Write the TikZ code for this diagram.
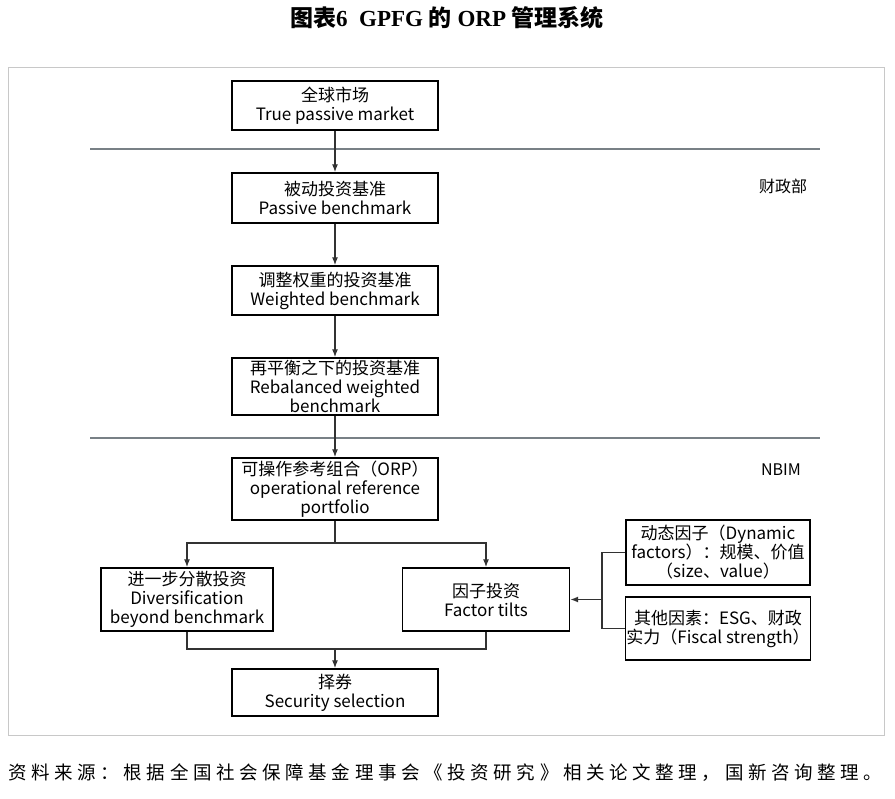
\documentclass[tikz,border=0pt]{standalone}
\usepackage{fontspec}
\setmainfont{Liberation Serif}
\newfontfamily\cjk{Noto Sans CJK SC}
\newfontfamily\cjkfoot[LetterSpace=25]{Noto Sans CJK SC}
\usetikzlibrary{arrows.meta}
\definecolor{framegray}{RGB}{200,200,200}
\definecolor{sepgray}{RGB}{120,128,134}
\definecolor{linkgray}{RGB}{50,50,50}
\tikzset{
  box/.style={draw=black, line width=1.4pt, rectangle, align=center, inner sep=1pt,
    font=\cjk\fontsize{17}{19}\selectfont},
  link/.style={draw=linkgray, line width=1.3pt},
  arr/.style={link, -{Latex[length=8pt,width=6pt]}},
  sep/.style={draw=sepgray, line width=1.8pt},
  side/.style={font=\cjk\fontsize{16}{18}\selectfont, inner sep=0pt}
}
\begin{document}
\begin{tikzpicture}[x=1pt,y=-1pt]
\useasboundingbox (0,0) rectangle (895,799);
% title
\node[inner sep=0pt] (title) at (447,18) {\fontsize{23}{25}\selectfont\bfseries{\cjk 图表}6\hspace{0.5em}GPFG {\cjk 的} ORP {\cjk 管理系统}};
% frame
\draw[draw=framegray, line width=1pt] (8,68) rectangle (884,735);
% separators
\draw[sep] (90,149) -- (820,149);
\draw[sep] (90,438) -- (820,438);
% boxes
\node[box, minimum width=206pt, minimum height=49pt] (b1) at (335,105.5) {全球市场\\True passive market};
\node[box, minimum width=206pt, minimum height=50pt] (b2) at (335,198) {被动投资基准\\Passive benchmark};
\node[box, minimum width=206pt, minimum height=49pt] (b3) at (335,290.5) {调整权重的投资基准\\Weighted benchmark};
\node[box, minimum width=206pt, minimum height=57pt] (b4) at (335,386.5) {再平衡之下的投资基准\\Rebalanced weighted\\benchmark};
\node[box, minimum width=206pt, minimum height=62pt] (b5) at (335,489) {可操作参考组合（ORP）\\operational reference\\portfolio};
\node[box, minimum width=172pt, minimum height=63pt] (b6) at (187,599.5) {进一步分散投资\\Diversification\\beyond benchmark};
\node[box, minimum width=167pt, minimum height=63pt] (b7) at (486,599.5) {因子投资\\Factor tilts};
\node[box, minimum width=184pt, minimum height=65pt] (b8) at (718,552.5) {动态因子（Dynamic\\factors）：规模、价值\\（size、value）};
\node[box, minimum width=184pt, minimum height=63pt] (b9) at (718,628.5) {其他因素：ESG、财政\\实力（Fiscal strength）};
\node[box, minimum width=206pt, minimum height=47pt] (b10) at (335,692.5) {择券\\Security selection};
% side labels
\node[side] (mof) at (783,186) {财政部};
\node[side] (nbim) at (781,470) {NBIM};
% connectors
\draw[arr] (b1) -- (b2);
\draw[arr] (b2) -- (b3);
\draw[arr] (b3) -- (b4);
\draw[arr] (b4) -- (b5);
\coordinate (split) at (335,543);
\draw[link] (b5.south) -- (split);
\draw[arr] (split) -| (b6.north);
\draw[arr] (split) -| (b7.north);
\coordinate (merge) at (335,649);
\draw[link] (b6.south) |- (merge);
\draw[link] (b7.south) |- (merge);
\draw[arr] (merge) -- (b10.north);
\coordinate (br) at (602,599.5);
\draw[link] (b8.west) -| (br);
\draw[link] (b9.west) -| (br);
\draw[arr] (br) -- (b7.east);
% footer
\node[inner sep=0pt, anchor=west] (foot) at (8,773) {\cjkfoot\fontsize{18.5}{20}\selectfont 资料来源：根据全国社会保障基金理事会《投资研究》相关论文整理，国新咨询整理。};
\end{tikzpicture}
\end{document}
